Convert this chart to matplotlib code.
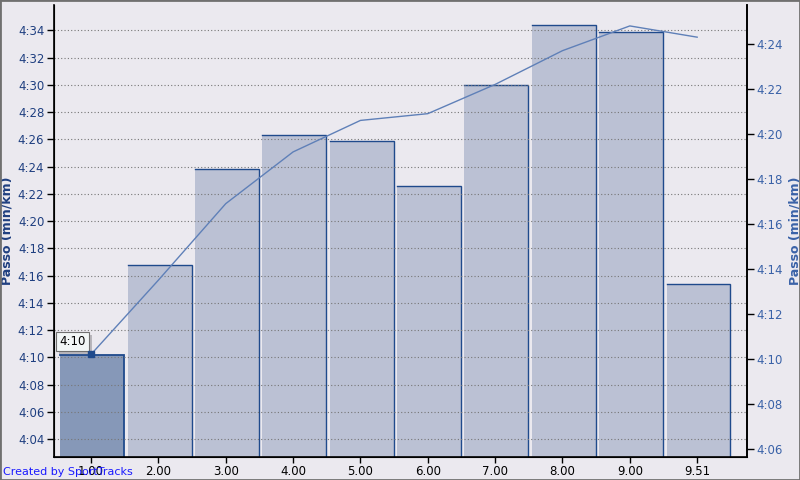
import numpy as np
import matplotlib
matplotlib.use("Agg")
import matplotlib.pyplot as plt
from matplotlib.ticker import FixedLocator, FuncFormatter

# ---- data (pace in seconds per km)
laps = ["1.00", "2.00", "3.00", "4.00", "5.00", "6.00", "7.00", "8.00", "9.00", "9.51"]
lap_pace = [250.2, 256.8, 263.8, 266.3, 265.9, 262.6, 270.0, 274.4, 273.9, 255.4]
avg_pace = [250.2, 253.5, 256.9, 259.2, 260.6, 260.9, 262.2, 263.7, 264.8, 264.3]
left_ticks = list(range(244, 276, 2))
right_ticks = list(range(246, 266, 2))
highlight = 0

# ---- colours
bg = "#ebe9ef"
bar_fill = "#bbc1d4"
bar_hi = "#8698b8"
bar_edge = "#1f4a8c"
line_col = "#5f80b8"
dark_blue = "#1f3f80"
light_blue = "#3a62a8"


def mmss(v, pos=None):
    v = int(round(v))
    return "%d:%02d" % (v // 60, v % 60)


fig = plt.figure(figsize=(8, 4.8), dpi=100, facecolor=bg)
ax = fig.add_axes([54 / 800, 23 / 480, 693 / 800, 452 / 480])
ax.set_facecolor(bg)

x = np.arange(len(laps))
w = 0.95
colors = [bar_hi if i == highlight else bar_fill for i in x]
ax.bar(x + 0.02, lap_pace, width=w, color=colors, edgecolor="none", zorder=1)
# top and right outline of each bar
for i, v in zip(x + 0.02, lap_pace):
    ax.plot([i - w / 2, i + w / 2, i + w / 2], [v, v, 0], color=bar_edge,
            lw=1.3 if i < 0.5 else 1.0, zorder=1.5, solid_joinstyle="miter")

ax.set_xlim(-0.55, 9.74)
ax.set_ylim(242.69, 275.86)
ax.set_xticks(x)
ax.set_xticklabels(laps, fontsize=8.5, color="black")
ax.yaxis.set_major_locator(FixedLocator(left_ticks))
ax.yaxis.set_major_formatter(FuncFormatter(mmss))
ax.tick_params(axis="y", labelsize=8.5, labelcolor=dark_blue, length=5, width=1, pad=2)
ax.tick_params(axis="x", length=4, width=1, pad=2)
ax.set_axisbelow(False)
ax.grid(axis="y", color="#777777", linestyle=(0, (1, 2)), linewidth=0.8)
ax.set_ylabel("Passo (min/km)", fontsize=9, fontweight="bold", color=dark_blue)
ax.yaxis.set_label_coords(-0.058, 0.5)
ax.spines["top"].set_visible(False)
for s in ["left", "bottom", "right"]:
    ax.spines[s].set_color("black")
    ax.spines[s].set_linewidth(1.2)

ax2 = ax.twinx()
ax2.plot(x, avg_pace, color=line_col, lw=1.0, zorder=3)
ax2.plot(x[highlight], avg_pace[highlight], marker="s", ms=5, color=bar_edge, zorder=4)
ax2.set_ylim(245.64, 265.73)
ax2.yaxis.set_major_locator(FixedLocator(right_ticks))
ax2.yaxis.set_major_formatter(FuncFormatter(mmss))
ax2.tick_params(axis="y", labelsize=8.5, labelcolor=light_blue, length=5, width=1, pad=2)
ax2.set_ylabel("Passo (min/km)", fontsize=9, fontweight="bold", color=light_blue)
ax2.yaxis.set_label_coords(1.0595, 0.5)
ax2.spines["top"].set_visible(False)
ax2.spines["right"].set_linewidth(1.2)

# tooltip with shadow
tip = mmss(avg_pace[highlight])
ax2.annotate(tip, (x[highlight], avg_pace[highlight]), xytext=(-11.2, 7.2),
             textcoords="offset points", ha="center", va="center", fontsize=8.5,
             color="none",
             bbox=dict(boxstyle="square,pad=0.25", fc="#b8b6bc", ec="none"))
ax2.annotate(tip, (x[highlight], avg_pace[highlight]), xytext=(-13.3, 9.4),
             textcoords="offset points", ha="center", va="center", fontsize=8.5,
             color="black",
             bbox=dict(boxstyle="square,pad=0.25", fc="#f2f6f6", ec="#707070", lw=0.8))

fig.text(3 / 800, 3 / 480, "Created by SportTracks", fontsize=8, color="#1a1aff",
         ha="left", va="bottom")
fig.patches.append(plt.Rectangle((0, 0), 1, 1, transform=fig.transFigure, fill=False,
                                 ec="#707070", lw=2))

fig.savefig("out.png", dpi=100, facecolor=bg)
